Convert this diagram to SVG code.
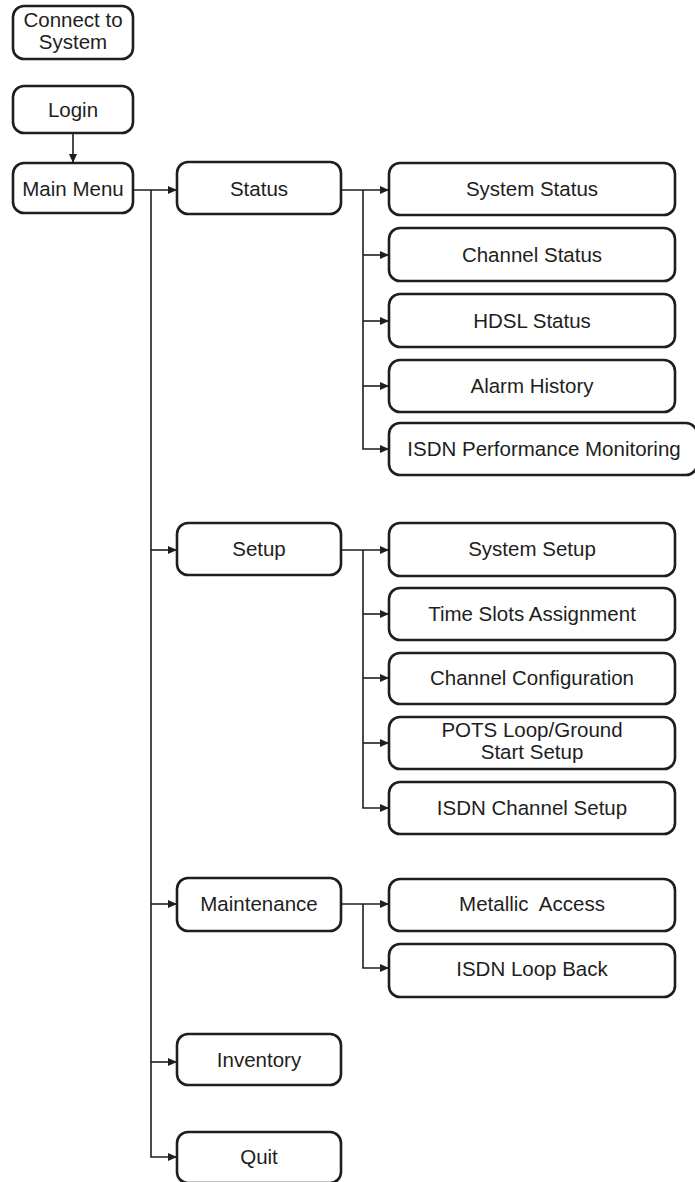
<svg xmlns="http://www.w3.org/2000/svg" width="695" height="1182" viewBox="0 0 695 1182">
<defs>
<marker id="arr" markerWidth="10" markerHeight="8" refX="9" refY="4" orient="auto" markerUnits="userSpaceOnUse">
<path d="M0,0 L9,4 L0,8 Z" fill="#1e1e1e"/>
</marker>
<style>
.box{fill:#fff;stroke:#1e1e1e;stroke-width:2.6}
.t{font-family:"Liberation Sans",Arial,sans-serif;font-size:20.5px;fill:#1e1e1e;text-anchor:middle}
.c{fill:none;stroke:#1e1e1e;stroke-width:1.6}
</style>
</defs>
<rect width="695" height="1182" fill="#fff"/>
<g id="connectors">
<path class="c" d="M73,133 V163" marker-end="url(#arr)"/>
<path class="c" d="M133,190 H177" marker-end="url(#arr)"/>
<path class="c" d="M151,190 V1157 H177" marker-end="url(#arr)"/>
<path class="c" d="M151,550 H177" marker-end="url(#arr)"/>
<path class="c" d="M151,904 H177" marker-end="url(#arr)"/>
<path class="c" d="M151,1062 H177" marker-end="url(#arr)"/>
<path class="c" d="M341,190 H389" marker-end="url(#arr)"/>
<path class="c" d="M363,190 V449 H389" marker-end="url(#arr)"/>
<path class="c" d="M363,255 H389" marker-end="url(#arr)"/>
<path class="c" d="M363,321 H389" marker-end="url(#arr)"/>
<path class="c" d="M363,386 H389" marker-end="url(#arr)"/>
<path class="c" d="M341,550 H389" marker-end="url(#arr)"/>
<path class="c" d="M363,550 V808 H389" marker-end="url(#arr)"/>
<path class="c" d="M363,614 H389" marker-end="url(#arr)"/>
<path class="c" d="M363,678 H389" marker-end="url(#arr)"/>
<path class="c" d="M363,743 H389" marker-end="url(#arr)"/>
<path class="c" d="M341,904 H389" marker-end="url(#arr)"/>
<path class="c" d="M363,904 V968 H389" marker-end="url(#arr)"/>
</g>
<g id="connect"><rect class="box" x="13" y="6" width="120" height="53" rx="11"/><text class="t" x="73" y="27">Connect to</text><text class="t" x="73" y="49">System</text></g>
<g id="login"><rect class="box" x="13" y="86" width="120" height="47" rx="11"/><text class="t" x="73" y="117">Login</text></g>
<g id="mainmenu"><rect class="box" x="13" y="163" width="120" height="50" rx="11"/><text class="t" x="73" y="196">Main Menu</text></g>
<g id="status"><rect class="box" x="177" y="162" width="164" height="52" rx="11"/><text class="t" x="259" y="196">Status</text></g>
<g id="setup"><rect class="box" x="177" y="523" width="164" height="52" rx="11"/><text class="t" x="259" y="556">Setup</text></g>
<g id="maintenance"><rect class="box" x="177" y="878" width="164" height="53" rx="11"/><text class="t" x="259" y="911">Maintenance</text></g>
<g id="inventory"><rect class="box" x="177" y="1034" width="164" height="51" rx="11"/><text class="t" x="259" y="1067">Inventory</text></g>
<g id="quit"><rect class="box" x="177" y="1132" width="164" height="51" rx="11"/><text class="t" x="259" y="1164">Quit</text></g>
<g id="systemstatus"><rect class="box" x="389" y="163" width="286" height="52" rx="11"/><text class="t" x="532" y="196">System Status</text></g>
<g id="channelstatus"><rect class="box" x="389" y="228" width="286" height="53" rx="11"/><text class="t" x="532" y="262">Channel Status</text></g>
<g id="hdslstatus"><rect class="box" x="389" y="294" width="286" height="53" rx="11"/><text class="t" x="532" y="328">HDSL Status</text></g>
<g id="alarmhistory"><rect class="box" x="389" y="360" width="286" height="52" rx="11"/><text class="t" x="532" y="393">Alarm History</text></g>
<g id="isdnperf"><rect class="box" x="389" y="423" width="308" height="52" rx="11"/><text class="t" x="544" y="456">ISDN Performance Monitoring</text></g>
<g id="systemsetup"><rect class="box" x="389" y="523" width="286" height="53" rx="11"/><text class="t" x="532" y="556">System Setup</text></g>
<g id="timeslots"><rect class="box" x="389" y="588" width="286" height="52" rx="11"/><text class="t" x="532" y="621">Time Slots Assignment</text></g>
<g id="channelconfig"><rect class="box" x="389" y="653" width="286" height="51" rx="11"/><text class="t" x="532" y="685">Channel Configuration</text></g>
<g id="pots"><rect class="box" x="389" y="717" width="286" height="52" rx="11"/><text class="t" x="532" y="737">POTS Loop/Ground</text><text class="t" x="532" y="759">Start Setup</text></g>
<g id="isdnchannel"><rect class="box" x="389" y="782" width="286" height="52" rx="11"/><text class="t" x="532" y="815">ISDN Channel Setup</text></g>
<g id="metallic"><rect class="box" x="389" y="879" width="286" height="52" rx="11"/><text class="t" x="532" y="911" xml:space="preserve">Metallic  Access</text></g>
<g id="isdnloop"><rect class="box" x="389" y="944" width="286" height="53" rx="11"/><text class="t" x="532" y="976">ISDN Loop Back</text></g>
</svg>
